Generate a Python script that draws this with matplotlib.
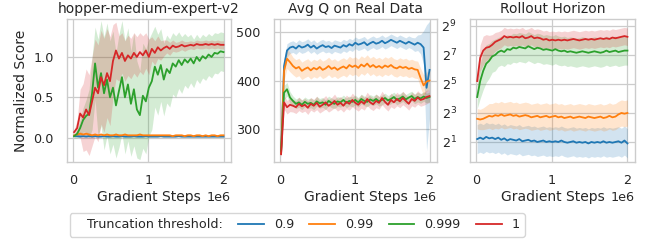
import numpy as np
import matplotlib
matplotlib.use("Agg")
import matplotlib.pyplot as plt
from matplotlib.ticker import NullLocator

plt.rcParams.update({
    "font.family": ["DejaVu Sans"],
    "axes.edgecolor": "0.8",
    "axes.linewidth": 1.0,
    "grid.color": "0.8",
    "grid.linewidth": 0.9,
    "xtick.labelsize": 9.2,
    "ytick.labelsize": 9.2,
    "xtick.major.size": 5,
    "ytick.major.size": 6,
    "text.color": "0.15",
    "xtick.color": "0.15",
    "ytick.color": "0.15",
    "axes.labelcolor": "0.15",
    "axes.titlepad": 4,
})

steps = np.linspace(0.01e6, 2.0e6, 51)
thresholds = ["0.9", "0.99", "0.999", "1"]
colors = ["#1f77b4", "#ff7f0e", "#2ca02c", "#d62728"]

# normalized score (mean, band half-width)
score_09 = [0.02, 0.02, 0.015, 0.02, 0.015, 0.02, 0.015, 0.02, 0.015, 0.015,
            0.02, 0.015, 0.015, 0.02, 0.015, 0.015, 0.02, 0.015, 0.015, 0.015,
            0.02, 0.015, 0.015, 0.015, 0.02, 0.015, 0.015, 0.015, 0.015, 0.02,
            0.015, 0.015, 0.015, 0.015, 0.015, 0.02, 0.015, 0.015, 0.015, 0.015,
            0.015, 0.015, 0.015, 0.015, 0.015, 0.015, 0.015, 0.015, 0.015, 0.015,
            0.015]
score_09_sd = [0.01, 0.01, 0.012, 0.01, 0.012, 0.01, 0.01, 0.012, 0.01, 0.01,
               0.01, 0.01, 0.012, 0.01, 0.01, 0.01, 0.01, 0.012, 0.01, 0.01,
               0.01, 0.01, 0.01, 0.01, 0.01, 0.01, 0.01, 0.01, 0.01, 0.01,
               0.01, 0.01, 0.01, 0.01, 0.01, 0.01, 0.01, 0.01, 0.01, 0.01,
               0.01, 0.01, 0.01, 0.01, 0.01, 0.01, 0.01, 0.01, 0.01, 0.01,
               0.01]
score_099 = [0.03, 0.04, 0.05, 0.04, 0.05, 0.04, 0.03, 0.04, 0.03, 0.04,
             0.03, 0.04, 0.03, 0.03, 0.04, 0.03, 0.03, 0.04, 0.03, 0.03,
             0.03, 0.03, 0.04, 0.03, 0.03, 0.03, 0.03, 0.03, 0.03, 0.03,
             0.03, 0.03, 0.03, 0.02, 0.03, 0.03, 0.03, 0.02, 0.03, 0.03,
             0.02, 0.03, 0.03, 0.02, 0.03, 0.02, 0.03, 0.03, 0.02, 0.03,
             0.03]
score_099_sd = [0.015, 0.02, 0.025, 0.02, 0.025, 0.02, 0.02, 0.02, 0.02, 0.02,
                0.02, 0.02, 0.015, 0.02, 0.02, 0.015, 0.02, 0.02, 0.015, 0.015,
                0.015, 0.02, 0.02, 0.015, 0.015, 0.015, 0.015, 0.015, 0.015, 0.015,
                0.015, 0.015, 0.015, 0.01, 0.015, 0.015, 0.015, 0.01, 0.015, 0.015,
                0.01, 0.015, 0.015, 0.01, 0.015, 0.01, 0.015, 0.015, 0.01, 0.015,
                0.015]
score_0999 = [0.02, 0.05, 0.12, 0.22, 0.27, 0.30, 0.55, 0.92, 0.62, 0.80,
              0.55, 0.72, 0.50, 0.62, 0.40, 0.58, 0.75, 0.50, 0.66, 0.42,
              0.60, 0.35, 0.28, 0.52, 0.45, 0.62, 0.70, 0.88, 0.78, 0.90,
              0.72, 0.85, 0.80, 0.92, 0.88, 0.96, 0.90, 0.97, 0.93, 0.98,
              0.92, 1.00, 0.95, 1.01, 0.98, 1.03, 1.00, 1.05, 1.04, 1.07,
              1.06]
score_0999_sd = [0.02, 0.05, 0.10, 0.15, 0.20, 0.30, 0.45, 0.45, 0.60, 0.65,
                 0.70, 0.70, 0.70, 0.70, 0.65, 0.70, 0.70, 0.70, 0.70, 0.65,
                 0.70, 0.60, 0.55, 0.65, 0.65, 0.60, 0.60, 0.50, 0.50, 0.45,
                 0.45, 0.42, 0.42, 0.38, 0.38, 0.35, 0.35, 0.32, 0.32, 0.30,
                 0.30, 0.28, 0.28, 0.27, 0.27, 0.26, 0.26, 0.25, 0.25, 0.24,
                 0.24]
score_1 = [0.07, 0.12, 0.30, 0.25, 0.35, 0.28, 0.45, 0.62, 0.55, 0.75,
           0.65, 0.80, 0.70, 0.95, 1.08, 0.98, 1.05, 0.95, 1.02, 0.98,
           1.05, 1.00, 1.06, 1.02, 1.08, 1.00, 1.10, 1.05, 1.12, 1.08,
           1.11, 1.13, 1.10, 1.14, 1.12, 1.13, 1.15, 1.13, 1.14, 1.15,
           1.14, 1.16, 1.15, 1.15, 1.16, 1.15, 1.16, 1.15, 1.16, 1.15,
           1.15]
score_1_sd = [0.03, 0.10, 0.30, 0.42, 0.50, 0.50, 0.55, 0.60, 0.60, 0.58,
              0.58, 0.55, 0.55, 0.45, 0.35, 0.28, 0.25, 0.25, 0.25, 0.25,
              0.25, 0.25, 0.24, 0.24, 0.22, 0.22, 0.15, 0.15, 0.14, 0.12,
              0.10, 0.08, 0.08, 0.07, 0.06, 0.06, 0.06, 0.06, 0.05, 0.05,
              0.05, 0.05, 0.05, 0.05, 0.05, 0.05, 0.05, 0.05, 0.05, 0.05,
              0.05]

# average Q on real data
q_09 = [250, 430, 462, 468, 470, 466, 472, 468, 470, 474,
        468, 472, 466, 470, 473, 469, 471, 467, 472, 470,
        468, 473, 470, 475, 472, 478, 474, 476, 479, 473,
        477, 480, 476, 478, 482, 477, 480, 484, 481, 478,
        482, 479, 476, 480, 477, 474, 478, 475, 468, 385,
        422]
q_09_sd = [8, 15, 14, 12, 12, 12, 12, 12, 12, 12,
           12, 12, 12, 12, 12, 12, 12, 12, 12, 12,
           12, 12, 12, 12, 12, 12, 12, 12, 12, 12,
           12, 12, 12, 12, 12, 12, 12, 12, 12, 12,
           12, 12, 12, 12, 12, 14, 16, 20, 35, 130,
           100]
q_099 = [250, 420, 445, 438, 430, 425, 428, 420, 424, 427,
         421, 426, 423, 428, 422, 425, 430, 424, 427, 422,
         426, 429, 425, 432, 428, 431, 426, 433, 429, 435,
         428, 432, 427, 430, 426, 431, 428, 432, 427, 425,
         429, 426, 428, 424, 426, 423, 422, 405, 390, 398,
         400]
q_099_sd = [8, 20, 20, 20, 18, 18, 18, 18, 18, 18,
            18, 18, 18, 18, 18, 18, 18, 18, 18, 18,
            18, 18, 18, 18, 18, 18, 18, 18, 18, 18,
            18, 18, 18, 18, 18, 18, 18, 18, 18, 18,
            18, 18, 18, 18, 18, 18, 18, 20, 22, 20,
            18]
q_0999 = [255, 375, 382, 365, 358, 352, 355, 350, 356, 352,
          354, 350, 357, 353, 355, 350, 358, 354, 352, 357,
          355, 360, 354, 358, 356, 360, 355, 362, 358, 356,
          361, 358, 362, 357, 360, 364, 359, 362, 366, 360,
          363, 367, 361, 365, 368, 362, 366, 363, 367, 364,
          366]
q_0999_sd = [8, 15, 14, 12, 10, 10, 10, 10, 10, 10,
             10, 10, 10, 10, 10, 10, 10, 10, 10, 10,
             10, 10, 10, 10, 10, 10, 10, 10, 10, 10,
             10, 10, 10, 10, 10, 10, 10, 10, 10, 10,
             10, 10, 10, 10, 10, 10, 10, 10, 10, 10,
             10]
q_1 = [248, 355, 345, 350, 348, 345, 352, 347, 350, 344,
       352, 348, 354, 346, 350, 355, 348, 352, 358, 350,
       354, 348, 356, 352, 360, 354, 350, 357, 352, 362,
       355, 351, 358, 354, 364, 356, 350, 360, 355, 362,
       357, 364, 358, 352, 362, 358, 365, 360, 362, 366,
       368]
q_1_sd = [8, 14, 14, 14, 13, 13, 14, 13, 13, 14,
          13, 13, 14, 13, 13, 14, 13, 13, 14, 13,
          13, 13, 14, 13, 14, 13, 13, 14, 13, 14,
          13, 13, 14, 13, 14, 13, 13, 14, 13, 14,
          13, 14, 13, 13, 14, 13, 14, 13, 13, 14,
          13]

# rollout horizon, stored as log2 values
h_09 = [1.2, 1.3, 1.2, 1.35, 1.25, 1.3, 1.2, 1.3, 1.15, 1.25,
        1.1, 1.2, 1.15, 1.1, 1.2, 1.05, 1.1, 1.15, 1.05, 1.1,
        1.0, 1.05, 1.1, 1.0, 1.05, 1.0, 1.05, 1.0, 1.1, 1.0,
        0.95, 1.0, 1.05, 0.95, 1.0, 0.95, 1.0, 0.9, 1.0, 0.95,
        1.0, 0.95, 1.05, 0.95, 1.0, 0.95, 1.0, 1.05, 0.95, 1.1,
        0.9]
h_09_sd = [1.0, 1.0, 1.0, 1.0, 1.0, 1.0, 1.0, 1.0, 1.0, 1.0,
           1.0, 1.0, 1.0, 1.0, 1.0, 1.0, 1.0, 1.0, 1.0, 1.0,
           1.0, 1.0, 1.0, 1.0, 1.0, 1.0, 1.0, 1.0, 1.0, 1.0,
           1.0, 1.0, 1.0, 1.0, 1.0, 1.0, 1.0, 1.0, 1.0, 1.0,
           1.0, 1.0, 1.0, 1.0, 1.0, 1.0, 1.0, 1.0, 1.0, 1.0,
           1.0]
h_099 = [2.6, 2.55, 2.6, 2.7, 2.8, 2.75, 2.85, 2.8, 2.9, 2.8,
         2.85, 2.9, 2.8, 2.85, 2.75, 2.8, 2.85, 2.8, 2.7, 2.75,
         2.8, 2.7, 2.75, 2.8, 2.7, 2.75, 2.8, 2.7, 2.75, 2.65,
         2.7, 2.75, 2.65, 2.7, 2.75, 2.7, 2.65, 2.75, 2.7, 2.65,
         2.7, 2.75, 2.65, 2.7, 2.8, 2.7, 2.75, 2.9, 3.0, 2.95,
         3.0]
h_099_sd = [0.7, 0.7, 0.75, 0.8, 0.85, 0.9, 0.9, 0.9, 0.9, 0.9,
            0.9, 0.9, 0.9, 0.9, 0.9, 0.9, 0.9, 0.9, 0.9, 0.9,
            0.9, 0.9, 0.9, 0.9, 0.9, 0.9, 0.9, 0.9, 0.9, 0.9,
            0.9, 0.9, 0.9, 0.9, 0.9, 0.9, 0.9, 0.9, 0.9, 0.9,
            0.9, 0.9, 0.9, 0.9, 0.9, 0.9, 0.9, 0.9, 0.9, 0.9,
            0.9]
h_0999 = [4.1, 5.2, 5.9, 6.4, 6.6, 6.9, 7.0, 7.2, 7.3, 7.2,
          7.4, 7.35, 7.5, 7.45, 7.55, 7.5, 7.45, 7.6, 7.5, 7.4,
          7.5, 7.45, 7.35, 7.4, 7.35, 7.3, 7.4, 7.3, 7.25, 7.3,
          7.2, 7.25, 7.2, 7.15, 7.2, 7.25, 7.2, 7.15, 7.2, 7.25,
          7.2, 7.15, 7.2, 7.3, 7.2, 7.25, 7.3, 7.2, 7.25, 7.3,
          7.3]
h_0999_sd = [0.8, 1.2, 1.3, 1.3, 1.2, 1.1, 1.1, 1.0, 1.0, 1.0,
             1.0, 1.0, 1.0, 1.0, 1.0, 1.0, 1.0, 1.0, 1.0, 1.0,
             1.0, 1.0, 1.0, 1.0, 1.0, 1.0, 1.0, 1.0, 1.0, 1.0,
             1.0, 1.0, 1.0, 1.0, 1.0, 1.0, 1.0, 1.0, 1.0, 1.0,
             1.0, 1.0, 1.0, 1.0, 1.0, 1.0, 1.0, 1.0, 1.0, 1.0,
             1.0]
h_1 = [5.2, 6.8, 7.3, 7.5, 7.55, 7.7, 7.9, 8.0, 8.1, 8.3,
       8.2, 8.25, 8.2, 8.25, 8.2, 8.3, 8.15, 8.2, 8.3, 8.15,
       8.2, 8.15, 8.05, 8.1, 8.0, 8.05, 8.0, 8.05, 8.0, 8.05,
       8.0, 8.05, 8.1, 8.05, 8.0, 8.05, 8.1, 8.05, 8.1, 8.05,
       8.1, 8.15, 8.1, 8.15, 8.1, 8.2, 8.15, 8.2, 8.25, 8.3,
       8.25]
h_1_sd = [0.5, 0.9, 1.0, 0.9, 0.8, 0.7, 0.65, 0.6, 0.6, 0.6,
          0.6, 0.6, 0.6, 0.6, 0.6, 0.6, 0.6, 0.6, 0.6, 0.6,
          0.6, 0.6, 0.6, 0.6, 0.6, 0.6, 0.6, 0.6, 0.6, 0.6,
          0.6, 0.6, 0.6, 0.6, 0.6, 0.6, 0.6, 0.6, 0.6, 0.6,
          0.6, 0.6, 0.6, 0.6, 0.6, 0.6, 0.6, 0.6, 0.6, 0.6,
          0.6]

fig = plt.figure(figsize=(6.45, 2.4), dpi=100)
ax1 = fig.add_axes([0.1039, 0.325, 0.2543, 0.596])
ax2 = fig.add_axes([0.4248, 0.325, 0.2527, 0.596])
ax3 = fig.add_axes([0.7287, 0.325, 0.2558, 0.596])

panels = [
    (ax1, [score_09, score_099, score_0999, score_1],
     [score_09_sd, score_099_sd, score_0999_sd, score_1_sd], False),
    (ax2, [q_09, q_099, q_0999, q_1], [q_09_sd, q_099_sd, q_0999_sd, q_1_sd], False),
    (ax3, [h_09, h_099, h_0999, h_1], [h_09_sd, h_099_sd, h_0999_sd, h_1_sd], True),
]

lines = []
for ax, means, sds, is_log in panels:
    for m, s, c, lab in zip(means, sds, colors, thresholds):
        m = np.array(m, dtype=float)
        s = np.array(s, dtype=float)
        lo, hi = m - s, m + s
        if is_log:
            m, lo, hi = 2 ** m, 2 ** lo, 2 ** hi
        ax.fill_between(steps, lo, hi, color=c, alpha=0.2, lw=0)
        ln, = ax.plot(steps, m, color=c, lw=1.3, label=lab)
        if ax is ax1:
            lines.append(ln)
    ax.grid(True)
    ax.set_axisbelow(True)
    ax.tick_params(bottom=False, left=False)
    ax.set_xlim(-0.085e6, 2.1e6)
    ax.set_xticks([0, 1e6, 2e6])
    ax.set_xlabel("Gradient Steps", fontsize=10, labelpad=2)

ax1.set_title("hopper-medium-expert-v2", fontsize=10)
ax1.set_ylabel("Normalized Score", fontsize=10)
ax1.set_ylim(-0.30, 1.47)
ax1.set_yticks([0.0, 0.5, 1.0])

ax2.set_title("Avg Q on Real Data", fontsize=10)
ax2.set_ylim(232, 527)
ax2.set_yticks([300, 400, 500])

ax3.set_title("Rollout Horizon", fontsize=10)
ax3.set_yscale("log", base=2)
ax3.set_ylim(2 ** -0.38, 2 ** 9.48)
ax3.set_yticks([2, 8, 32, 128, 512])
ax3.yaxis.set_minor_locator(NullLocator())

leg = fig.legend(lines, thresholds, loc="center", bbox_to_anchor=(0.461, 0.0625),
                 ncol=4, fontsize=9.2, title="   Truncation threshold:",
                 title_fontsize=9.2, columnspacing=1.2, handlelength=2.0,
                 edgecolor="0.8")
# put the title to the left of the entries
title_box = leg._legend_title_box
hbox = leg._legend_handle_box
leg._legend_box._children = [hbox]
hbox._children.insert(0, title_box)

fig.savefig("out.png", dpi=100)
